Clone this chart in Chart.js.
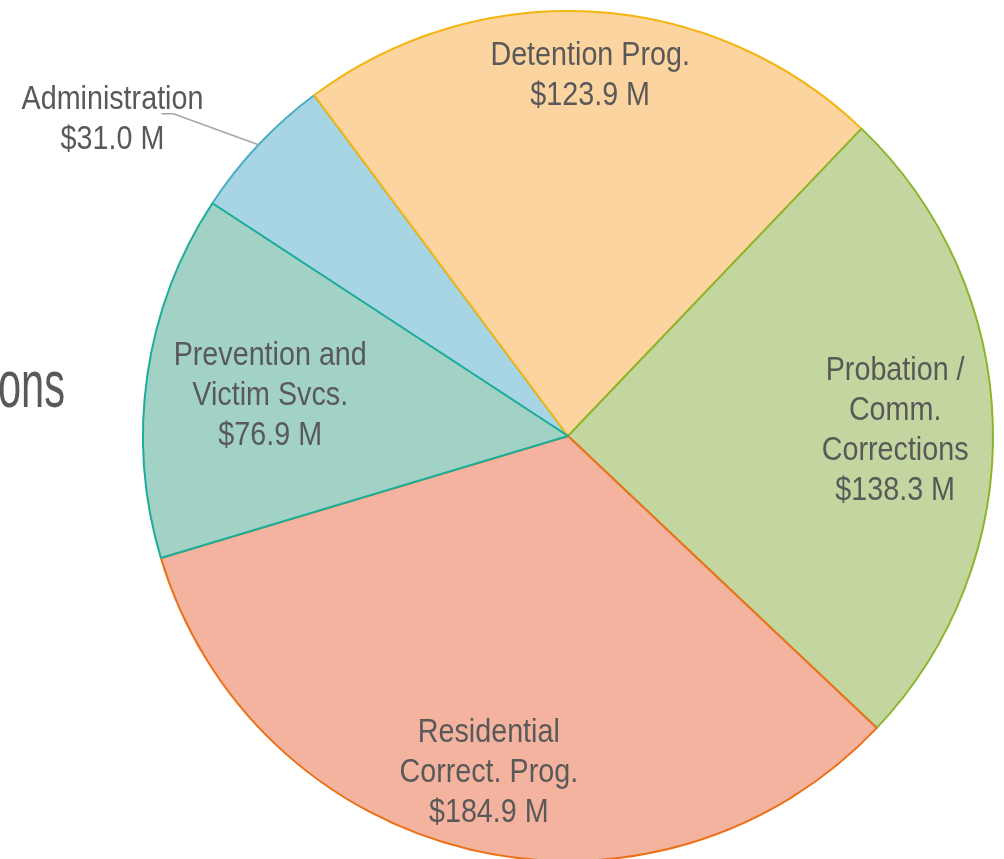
<!DOCTYPE html>
<html>
<head>
<meta charset="utf-8">
<script src="https://cdn.jsdelivr.net/npm/chart.js@4.4.1/dist/chart.umd.min.js"></script>
<style>
  html, body { margin: 0; padding: 0; background: #fff; overflow: hidden; }
  #wrap { width: 1004px; height: 859px; }
</style>
</head>
<body>
<div id="wrap"><canvas id="budgetChart" width="1004" height="859"></canvas></div>
<script>
// slices in drawing order (clockwise from the Administration slice)
const categories = [
    ['Administration'],
    ['Detention Prog.'],
    ['Probation /', 'Comm.', 'Corrections'],
    ['Residential', 'Correct. Prog.'],
    ['Prevention and', 'Victim Svcs.']
];
const amounts = [31.0, 123.9, 138.3, 184.9, 76.9];   // $ millions
const fillColors = ['#A7D5E3', '#FCD4A0', '#C3D6A0', '#F4B39F', '#A1D2C5'];
const borderColors = ['#4BADC8', '#F3B510', '#8BB52B', '#EC7018', '#1CAC9A'];

const FONT = '33px "Liberation Sans", Arial, sans-serif';
const NARROW = 0.87;   // no narrow face installed, squeeze the regular one
const LINE_H = 40;
// how far out each label sits (fraction of radius); null = outside with leader line
const labelRadius = [null, 0.856, 0.77, 0.807, 0.708];

function valueText(v) {
    return '$' + v.toFixed(1) + ' M';
}

function fillSqueezed(ctx, text, x, y, sx) {
    ctx.save();
    ctx.translate(x, y);
    ctx.scale(sx, 1);
    ctx.fillText(text, 0, 0);
    ctx.restore();
}

const sliceLabels = {
    id: 'sliceLabels',
    afterDatasetsDraw(chart) {
        const ctx = chart.ctx;
        const arcs = chart.getDatasetMeta(0).data;
        ctx.save();
        ctx.font = FONT;
        ctx.fillStyle = '#595959';
        ctx.textAlign = 'center';
        ctx.textBaseline = 'middle';
        arcs.forEach((arc, i) => {
            const p = arc.getProps(['x', 'y', 'startAngle', 'endAngle', 'outerRadius'], true);
            const mid = (p.startAngle + p.endAngle) / 2;
            const lines = categories[i].concat([valueText(amounts[i])]);
            let cx, cy;
            if (labelRadius[i] === null) {
                const ex = p.x + Math.cos(mid) * p.outerRadius;
                const ey = p.y + Math.sin(mid) * p.outerRadius;
                ctx.strokeStyle = '#A6A6A6';
                ctx.lineWidth = 1.5;
                ctx.beginPath();
                ctx.moveTo(ex, ey);
                ctx.lineTo(ex - 85, ey - 31);
                ctx.lineTo(ex - 97, ey - 31);
                ctx.stroke();
                cx = ex - 146;
                cy = ey - 28;
            } else {
                cx = p.x + Math.cos(mid) * p.outerRadius * labelRadius[i];
                cy = p.y + Math.sin(mid) * p.outerRadius * labelRadius[i];
            }
            lines.forEach((t, k) => {
                fillSqueezed(ctx, t, cx, cy + 3 + (k - (lines.length - 1) / 2) * LINE_H, NARROW);
            });
        });
        // cut-off title text at the left edge
        ctx.font = '66px "Liberation Sans", Arial, sans-serif';
        ctx.textAlign = 'left';
        ctx.textBaseline = 'alphabetic';
        fillSqueezed(ctx, 'ons', -2, 407, 0.63);
        ctx.restore();
    }
};

const ctx = document.getElementById('budgetChart').getContext('2d');
new Chart(ctx, {
    type: 'pie',
    data: {
        labels: categories.map(c => c.join(' ')),
        datasets: [{
            data: amounts,
            backgroundColor: fillColors,
            borderColor: borderColors,
            borderWidth: 2,
            clip: false
        }]
    },
    options: {
        responsive: false,
        animation: false,
        rotation: -56.8,
        radius: 425,
        layout: { padding: { left: 132, top: 13, right: 0, bottom: 0 } },
        plugins: {
            legend: { display: false },
            tooltip: { enabled: false }
        }
    },
    plugins: [sliceLabels]
});
</script>
</body>
</html>
